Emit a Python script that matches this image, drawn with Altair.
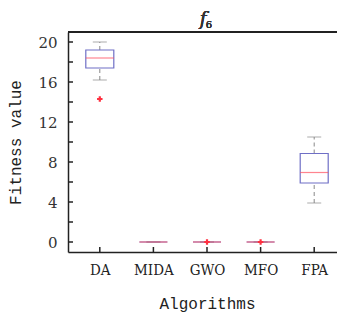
import altair as alt
import pandas as pd

categories = ["DA", "MIDA", "GWO", "MFO", "FPA"]
whisker_low = [16.2, 0.0, 0.0, 0.0, 3.9]
q1 = [17.4, 0.0, 0.0, 0.0, 5.9]
median = [18.4, 0.0, 0.0, 0.0, 6.95]
q3 = [19.2, 0.0, 0.0, 0.0, 8.85]
whisker_high = [20.0, 0.0, 0.0, 0.0, 10.5]
outlier_cat = ["DA", "GWO", "MFO"]
outlier_val = [14.3, 0.0, 0.0]
y_ticks = [0, 2, 4, 6, 8, 10, 12, 14, 16, 18, 20]
y_labels = [0, 4, 8, 12, 16, 20]

pos = [i + 1 for i in range(len(categories))]
df = pd.DataFrame({"cat": categories, "pos": pos, "lo": whisker_low, "q1": q1,
                   "med": median, "q3": q3, "hi": whisker_high})
df_out = pd.DataFrame({"pos": [categories.index(c) + 1 for c in outlier_cat], "v": outlier_val})
df_yt = pd.DataFrame({"v": y_ticks})

XLAB = "DejaVu Serif Condensed"
MONO = "Liberation Mono"
SERIF = "DejaVu Serif"

label_arr = "[" + ",".join("'%s'" % c for c in categories) + "]"
xscale = alt.Scale(domain=[0.5, 5.5], range=[0, 278], nice=False, zero=False)
yscale = alt.Scale(domain=[-1, 21], nice=False, zero=False)
xaxis = alt.Axis(values=pos, labelExpr=label_arr + "[datum.value-1]", ticks=False,
                 grid=False, title="Algorithms", labelFont=XLAB,
                 labelFontSize=15, labelColor="#222", labelPadding=10,
                 titleFont=MONO, titleFontSize=16, titleFontWeight="normal",
                 titleColor="#222", titlePadding=18, domainColor="#222", domainWidth=1.5)
yaxis = alt.Axis(values=y_labels, ticks=False, grid=False, title="Fitness value",
                 labelFont=SERIF, labelFontSize=15, labelColor="#333",
                 labelPadding=11, titleFont=MONO, titleFontSize=16,
                 titleFontWeight="normal", titleColor="#222", titlePadding=14,
                 domainColor="#222", domainWidth=1.5)

X = alt.X("pos:Q", scale=xscale, axis=xaxis)
base = alt.Chart(df)

whisk_hi = base.mark_rule(color="#888", strokeDash=[4, 3], strokeWidth=1).encode(
    x=X, y=alt.Y("q3:Q", scale=yscale, axis=yaxis), y2="hi:Q")
whisk_lo = base.mark_rule(color="#888", strokeDash=[4, 3], strokeWidth=1).encode(
    x=X, y=alt.Y("lo:Q", scale=yscale, axis=yaxis), y2="q1:Q")
cap_hi = base.mark_tick(color="#888", orient="horizontal", size=14, thickness=1).encode(
    x=X, y=alt.Y("hi:Q", scale=yscale, axis=yaxis))
cap_lo = base.mark_tick(color="#888", orient="horizontal", size=14, thickness=1).encode(
    x=X, y=alt.Y("lo:Q", scale=yscale, axis=yaxis))
box = base.mark_bar(orient="vertical", size=28, fill="white", stroke="#6f6fc6",
                    strokeWidth=1.2).encode(
    x=X, y=alt.Y("q1:Q", scale=yscale, axis=yaxis), y2="q3:Q")
med = base.mark_tick(color="#ff5060", orient="horizontal", size=28, thickness=1.2).encode(
    x=X, y=alt.Y("med:Q", scale=yscale, axis=yaxis))
outl = alt.Chart(df_out).mark_point(shape="cross", filled=True, color="#ff3040",
                                    size=30, opacity=1).encode(
    x=X, y=alt.Y("v:Q", scale=yscale, axis=yaxis))

ytick = alt.Chart(df_yt).mark_rule(color="#222", strokeWidth=1.5).encode(
    y=alt.Y("v:Q", scale=yscale, axis=yaxis), x=alt.value(0), x2=alt.value(5))
xtick = alt.Chart(df).mark_rule(color="#222", strokeWidth=1.5).encode(
    x=X, y=alt.value(220), y2=alt.value(215))
topline = alt.Chart(df).mark_rule(color="#222", strokeWidth=1.5).encode(
    x=alt.value(0), x2=alt.value(290), y=alt.value(0))
title_f = alt.Chart(df).mark_text(text="f", font=SERIF, fontStyle="italic",
                                  fontWeight="normal", fontSize=18, color="#333").encode(
    x=alt.value(135), y=alt.value(-12))
title_6 = alt.Chart(df).mark_text(text="6", font=SERIF, fontWeight="normal",
                                  fontSize=10, color="#333").encode(
    x=alt.value(141), y=alt.value(-7))

chart = alt.layer(whisk_hi, whisk_lo, cap_hi, cap_lo, box, med, outl,
                  ytick, xtick, topline, title_f, title_6).properties(
    width=269, height=220,
    autosize=alt.AutoSizeParams(type="none"),
    padding={"left": 60, "top": 24, "right": 0, "bottom": 60},
).configure_view(stroke=None)

chart.save("out.html", embed_options={"renderer": "svg", "actions": False})
